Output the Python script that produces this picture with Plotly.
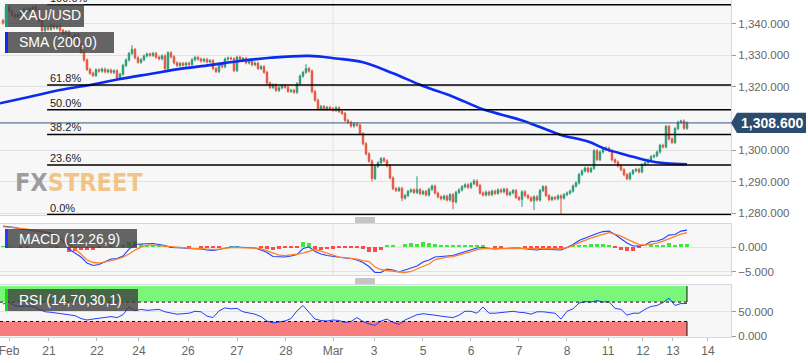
import plotly.graph_objects as go
from plotly.subplots import make_subplots

# ---------------- data ----------------
closes = [
    1340.2, 1345.3, 1344.0, 1342.8, 1342.2, 1342.9, 1344.2, 1344.6, 1344.0, 1344.8,
    1345.2, 1344.3, 1341.0, 1337.8, 1339.0, 1338.2, 1339.5, 1338.6, 1339.2, 1337.9,
    1336.8, 1337.5, 1335.2, 1335.8, 1336.6, 1333.5, 1331.0, 1328.5, 1325.5, 1324.3,
    1323.6, 1325.4, 1325.0, 1325.6, 1324.8, 1325.3, 1324.6, 1325.1, 1322.8, 1324.0,
    1326.8, 1328.5, 1330.6, 1331.8, 1329.2, 1327.8, 1328.6, 1329.8, 1330.4, 1330.0,
    1330.6, 1329.4, 1328.9, 1329.8, 1325.8, 1330.8, 1329.5, 1327.6, 1326.8, 1327.4,
    1326.9, 1327.5, 1327.1, 1328.6, 1329.3, 1328.8, 1328.2, 1328.7, 1327.9, 1328.3,
    1325.8, 1324.9, 1327.2, 1326.4, 1328.8, 1329.1, 1328.9, 1325.2, 1329.4, 1328.7,
    1329.0, 1327.6, 1328.2, 1327.0, 1327.5, 1325.8, 1326.4, 1324.6, 1321.2, 1319.8,
    1320.6, 1318.9, 1319.7, 1320.3, 1319.9, 1318.6, 1318.9, 1318.3, 1321.0, 1323.4,
    1324.6, 1325.8, 1325.0, 1318.5, 1315.8, 1313.0, 1313.8, 1312.9, 1313.5, 1313.1,
    1312.6, 1313.4, 1312.2, 1311.6, 1309.4, 1308.8, 1307.6, 1308.3, 1307.9, 1305.2,
    1302.0, 1298.8, 1296.5, 1291.0, 1294.8, 1296.0, 1297.3, 1296.6, 1295.0, 1291.2,
    1287.8, 1287.2, 1287.9, 1284.8, 1285.6, 1286.9, 1287.4, 1286.6, 1287.5, 1286.2,
    1286.9, 1285.8, 1287.6, 1288.6, 1286.4, 1285.2, 1284.6, 1285.4, 1284.2, 1285.9,
    1283.6, 1286.6, 1287.4, 1288.4, 1289.0, 1288.2, 1289.4, 1290.2, 1288.8, 1286.4,
    1285.8, 1286.7, 1285.9, 1287.0, 1286.3, 1287.4, 1286.8, 1287.6, 1285.9, 1286.5,
    1287.2, 1285.0, 1284.4, 1286.8, 1285.6, 1284.9, 1284.0, 1285.2, 1284.2, 1287.2,
    1288.4, 1285.6, 1284.3, 1285.0, 1284.6, 1285.5, 1284.8, 1285.9, 1286.4, 1287.0,
    1288.6, 1289.6, 1292.3, 1293.4, 1294.3, 1293.2, 1294.2, 1299.8, 1297.0, 1299.4,
    1300.2, 1300.6, 1299.8, 1296.9, 1296.2, 1295.0, 1293.8, 1292.2, 1290.9, 1292.6,
    1293.5, 1293.9, 1293.1, 1295.4, 1296.0, 1296.8, 1297.9, 1298.2, 1299.4, 1301.5,
    1301.0, 1307.5, 1303.5, 1302.4, 1306.8, 1308.8, 1309.2, 1306.9, 1308.6,
]
first_open = 1341.0
wick = 0.5  # typical wick length beyond the body
high_spikes = {1: 1345.8, 11: 1346.0, 43: 1333.2, 101: 1327.2, 138: 1291.7,
               157: 1290.8, 201: 1301.2, 226: 1309.6}
low_spikes = {1: 1339.8, 55: 1325.3, 123: 1290.0, 133: 1283.8, 150: 1281.3,
              173: 1282.0, 177: 1281.0, 186: 1279.6, 208: 1290.5}

# SMA(200): candle index -> value
sma_x = [-1, 9, 19, 29, 39, 49, 59, 69, 79, 89, 102, 111, 120, 130, 140, 150,
         160, 172, 179, 186, 195, 201, 208, 215, 221, 228]
sma_v = [1314.8, 1316.9, 1319.0, 1320.6, 1322.5, 1324.1, 1325.7, 1326.9, 1328.2,
         1329.2, 1329.8, 1329.0, 1327.8, 1324.3, 1320.3, 1316.9, 1312.9, 1309.7,
         1307.3, 1304.8, 1302.7, 1300.3, 1298.4, 1296.6, 1295.8, 1295.5]

# Fibonacci retracement
fib_low, fib_high = 1279.6, 1346.0
fib_pcts = [0.0, 23.6, 38.2, 50.0, 61.8, 100.0]
fib_start = 14.7
last_price = 1308.6

# indicators sampled every 2 candles
macd = [4.2, 4.1, 3.9, 3.6, 3.5, 3.4, 3.2, 3.0, 2.8, 2.1, 1.3, -0.4, -1.2, -2.0, -3.2,
        -3.7, -3.5, -3.0, -2.4, -2.3, -1.8, -0.4, 0.5, 0.6, 0.6, 0.7, 0.5, 0.3, -0.1,
        -0.1, -0.2, -0.3, -0.3, -0.4, -0.6, -0.7, -0.5, -0.2, 0.0, 0.0, -0.1, -0.1,
        -0.2, -0.6, -1.1, -1.9, -2.0, -2.0, -1.8, -1.5, -0.3, 0.0, -0.9, -1.4, -1.7,
        -1.9, -2.1, -2.2, -2.3, -2.6, -3.1, -3.9, -5.1, -5.1, -4.4, -4.6, -5.0, -4.6,
        -4.1, -3.8, -3.0, -2.6, -2.0, -1.9, -1.7, -1.7, -1.3, -0.9, -0.6, -0.2, -0.1,
        -0.3, -0.4, -0.3, -0.2, -0.2, -0.2, -0.4, -0.5, -0.6, -0.4, -0.5, -0.5, -0.6,
        -0.1, 0.5, 1.3, 1.8, 2.3, 2.7, 3.1, 3.2, 2.5, 1.6, 0.8, 0.2, 0.2, 0.4, 1.1,
        1.2, 1.6, 2.4, 2.5, 3.2, 3.4]
signal = [4.1, 4.0, 3.9, 3.7, 3.6, 3.4, 3.2, 3.0, 2.7, 2.2, 1.3, 0.6, -0.4, -1.4, -2.6,
          -3.1, -3.2, -3.0, -2.7, -2.4, -2.0, -1.4, -0.6, 0.0, 0.4, 0.4, 0.3, 0.2, 0.0,
          -0.1, -0.2, -0.2, -0.3, -0.3, -0.4, -0.5, -0.4, -0.2, -0.1, -0.1, -0.1, -0.1,
          -0.2, -0.3, -0.7, -1.2, -1.6, -1.7, -1.6, -1.4, -1.2, -0.8, -0.5, -0.8, -1.2,
          -1.5, -2.0, -2.1, -2.2, -2.4, -2.7, -2.9, -4.0, -4.5, -4.7, -4.8, -5.0, -5.1,
          -4.9, -4.4, -3.9, -3.4, -2.5, -2.2, -2.0, -1.9, -1.6, -1.3, -0.9, -0.5, -0.3,
          -0.3, -0.3, -0.2, -0.2, -0.2, -0.2, -0.2, -0.3, -0.3, -0.3, -0.3, -0.3, -0.3,
          -0.1, 0.3, 0.9, 1.4, 1.8, 2.2, 2.6, 2.9, 2.6, 2.2, 1.6, 1.0, 0.5, 0.4, 0.6,
          0.8, 1.2, 1.7, 2.1, 2.6, 2.9]
rsi = [66, 70, 62, 61, 62, 61, 55, 50, 49, 47, 45, 43, 42, 36, 33, 35, 37, 39, 40, 38,
       44, 60, 52, 55, 53, 54, 55, 50, 48, 45, 46, 47, 51, 50, 41, 38, 52, 58, 56, 57,
       50, 47, 45, 40, 31, 27, 29, 31, 36, 52, 63, 48, 35, 32, 31, 33, 32, 28, 30, 38,
       30, 25, 22, 31, 35, 28, 24, 33, 38, 44, 46, 45, 43, 41, 40, 38, 43, 51, 51, 47,
       60, 47, 47, 48, 50, 51, 49, 48, 45, 50, 50, 48, 47, 35, 51, 56, 68, 71, 70, 73,
       70, 71, 57, 55, 43, 47, 47, 55, 61, 63, 69, 78, 63, 67, 67]

tick_pos = [2, 15.3, 31.3, 45.3, 61.7, 78, 94.3, 110, 123.7, 140, 156, 172, 188,
            201.7, 213.3, 223.3, 235]
tick_text = ["Feb", "21", "22", "24", "26", "27", "28", "Mar", "3", "5", "6", "7",
             "8", "11", "12", "13", "14"]
month_break = 110

# ---------------- derived series ----------------
idx = list(range(len(closes)))
opens = [first_open] + closes[:-1]
highs = [high_spikes.get(i, max(o, c) + wick) for i, (o, c) in enumerate(zip(opens, closes))]
lows = [low_spikes.get(i, min(o, c) - wick) for i, (o, c) in enumerate(zip(opens, closes))]
ind_x = list(range(0, len(closes), 2))
hist = [round(m - s, 2) for m, s in zip(macd, signal)]
last_idx = idx[-1]

GREEN, RED = "#2a9a78", "#e4543c"
XMIN, XMAX = -1, 242.67

fig = make_subplots(rows=3, cols=1, shared_xaxes=True, vertical_spacing=0.02)
fig.add_trace(go.Candlestick(
    x=idx, open=opens, high=highs, low=lows, close=closes,
    increasing=dict(line=dict(color=GREEN, width=1), fillcolor=GREEN),
    decreasing=dict(line=dict(color=RED, width=1), fillcolor=RED),
    whiskerwidth=0, hoverinfo="skip", showlegend=False), row=1, col=1)
fig.add_trace(go.Scatter(x=sma_x, y=sma_v, mode="lines",
                         line=dict(color="#0b2cf0", width=2.6, shape="spline"),
                         hoverinfo="skip"), row=1, col=1)

fig.add_trace(go.Bar(x=ind_x, y=hist, width=1.2,
                     marker=dict(color=["#3ee63e" if h >= 0 else "#ff4a4a" for h in hist],
                                 line=dict(width=0)),
                     hoverinfo="skip"), row=2, col=1)
fig.add_trace(go.Scatter(x=ind_x, y=macd, mode="lines",
                         line=dict(color="#2040ff", width=1.1)), row=2, col=1)
fig.add_trace(go.Scatter(x=ind_x, y=signal, mode="lines",
                         line=dict(color="#ff7f2a", width=1.3)), row=2, col=1)

fig.add_trace(go.Scatter(x=ind_x, y=rsi, mode="lines",
                         line=dict(color="#2040ff", width=1)), row=3, col=1)

PW, PH = 731.0, 337.0
def fx(px):
    return px / PW
def fy(py):
    return (PH - py) / PH

AX = dict(showline=True, mirror=True, linecolor="#d3d8e2", linewidth=1,
          zeroline=False)
fig.update_layout(
    width=808, height=363, margin=dict(l=0, r=77, t=0, b=26),
    paper_bgcolor="white", plot_bgcolor="#f7f7f7", showlegend=False,
    hovermode=False, bargap=0,
    font=dict(family="Liberation Sans, Arial, sans-serif", size=11, color="#666"),
)
for ax in ["xaxis", "xaxis2", "xaxis3"]:
    fig.layout[ax].update(range=[XMIN, XMAX], showgrid=False, rangeslider=dict(visible=False),
                          showticklabels=False, ticks="", **AX)
fig.layout.xaxis3.update(showticklabels=True, tickvals=tick_pos, ticktext=tick_text,
                         ticks="outside", ticklen=3, tickcolor="#bbb",
                         ticklabeloverflow="allow",
                         tickfont=dict(size=12, color="#666"))
YAX = dict(side="right", showgrid=True, gridcolor="#e2e2e2", ticks="outside",
           ticklen=4, tickcolor="#999", tickformat=",.3f",
           tickfont=dict(size=11.5, color="#666"), **AX)
fig.layout.yaxis.update(domain=[0.362, 1.0], range=[1279.45, 1347.5],
                        tickvals=[1280, 1290, 1300, 1320, 1330, 1340], **YAX)
fig.layout.yaxis2.update(domain=[0.184, 0.335], range=[-5.6, 4.6], tickvals=[-5, 0], **YAX)
fig.layout.yaxis3.update(domain=[0.0, 0.154], range=[-2, 105], tickvals=[0, 50], **YAX)

shapes = []
# month gridline
for xr, yr in [("x", "y"), ("x2", "y2"), ("x3", "y3")]:
    shapes.append(dict(type="line", xref=xr, yref=yr + " domain", x0=month_break,
                       x1=month_break, y0=0, y1=1, line=dict(color="#e2e2e2", width=1),
                       layer="below"))
# RSI bands
shapes += [
    dict(type="rect", xref="x3", yref="y3", x0=XMIN, x1=last_idx, y0=70, y1=103,
         fillcolor="#7af77a", line=dict(width=0), layer="below"),
    dict(type="rect", xref="x3", yref="y3", x0=XMIN, x1=last_idx, y0=0, y1=30,
         fillcolor="#f77c7c", line=dict(width=0), layer="below"),
    dict(type="line", xref="x3", yref="y3", x0=XMIN, x1=last_idx, y0=70, y1=70,
         line=dict(color="#111", width=1, dash="dot")),
    dict(type="line", xref="x3", yref="y3", x0=XMIN, x1=last_idx, y0=30, y1=30,
         line=dict(color="#111", width=1, dash="dot")),
    dict(type="line", xref="x3", yref="y3", x0=last_idx, x1=last_idx, y0=70, y1=103,
         line=dict(color="#111", width=1)),
    dict(type="line", xref="x3", yref="y3", x0=last_idx, x1=last_idx, y0=0, y1=30,
         line=dict(color="#111", width=1)),
]
# last price line
shapes.append(dict(type="line", xref="x", yref="y", x0=XMIN, x1=XMAX, y0=last_price,
                   y1=last_price, line=dict(color="#34557a", width=1)))
# fibonacci lines
fib_levels = [fib_low + p / 100.0 * (fib_high - fib_low) for p in fib_pcts]
for lv in fib_levels:
    shapes.append(dict(type="line", xref="x", yref="y", x0=fib_start, x1=XMAX,
                       y0=lv, y1=lv, line=dict(color="#000", width=1.5)))
# price tag
shapes.append(dict(type="path", xref="paper", yref="y",
                   path=f"M {fx(731)},{last_price} L {fx(737)},{last_price-3.2} "
                        f"L {fx(737)},{last_price+3.2} Z",
                   fillcolor="#2b4b6f", line=dict(width=0)))
shapes.append(dict(type="rect", xref="paper", yref="y", x0=fx(737), x1=fx(806),
                   y0=last_price - 3.2, y1=last_price + 3.2,
                   fillcolor="#2b4b6f", line=dict(width=0)))
# label boxes (px coordinates)
boxes = [(5, 84, 4, 27, "#1f9c7c"), (5, 114, 32, 53, "#0b2cf0"),
         (5, 137, 229, 248, "#1f3fff"), (5, 138, 289, 311, "#11dd11")]
for x0, x1, y0, y1, bar in boxes:
    shapes.append(dict(type="rect", xref="paper", yref="paper", x0=fx(x0), x1=fx(x1),
                       y0=fy(y1), y1=fy(y0), fillcolor="rgba(62,62,62,0.8)",
                       line=dict(width=0)))
    shapes.append(dict(type="rect", xref="paper", yref="paper", x0=fx(x0), x1=fx(x0 + 3),
                       y0=fy(y1), y1=fy(y0), fillcolor=bar, line=dict(width=0)))
# panel drag handles
for ys in [(218, 220, 222), (279, 281, 283)]:
    for yy in ys:
        shapes.append(dict(type="line", xref="paper", yref="paper", x0=fx(355),
                           x1=fx(375), y0=fy(yy), y1=fy(yy),
                           line=dict(color="#8a8a8a", width=1)))
fig.update_layout(shapes=shapes)

ann = []
for p, lv in zip(fib_pcts, fib_levels):
    ann.append(dict(xref="x", yref="y", x=fib_start + 0.3, y=lv, text=f"{p:.1f}%",
                    showarrow=False, xanchor="left", yanchor="bottom",
                    font=dict(size=11, color="#222"), yshift=-1))
labels = [("XAU/USD", 15.5), ("SMA (200,0)", 42.5), ("MACD (12,26,9)", 238.5),
          ("RSI (14,70,30,1)", 300)]
for t, yc in labels:
    ann.append(dict(xref="paper", yref="paper", x=fx(17), y=fy(yc), text=t,
                    showarrow=False, xanchor="left", yanchor="middle",
                    font=dict(size=14, color="white")))
ann.append(dict(xref="paper", yref="y", x=fx(771.5), y=last_price,
                text="<b>1,308.600</b>", showarrow=False, xanchor="center",
                yanchor="middle", font=dict(size=14, color="white")))
ann.append(dict(xref="paper", yref="paper", x=fx(13), y=fy(182),
                text="<b><span style='color:rgba(140,140,148,0.85)'>FX</span>"
                     "<span style='color:rgba(240,180,100,0.75)'>STREET</span></b>",
                showarrow=False, xanchor="left", yanchor="middle",
                font=dict(size=25, family="DejaVu Sans Condensed, Liberation Sans, sans-serif")))
fig.update_layout(annotations=ann)

fig.write_html("out.html", config={"displayModeBar": False},
               post_script="document.body.style.margin='0';")
